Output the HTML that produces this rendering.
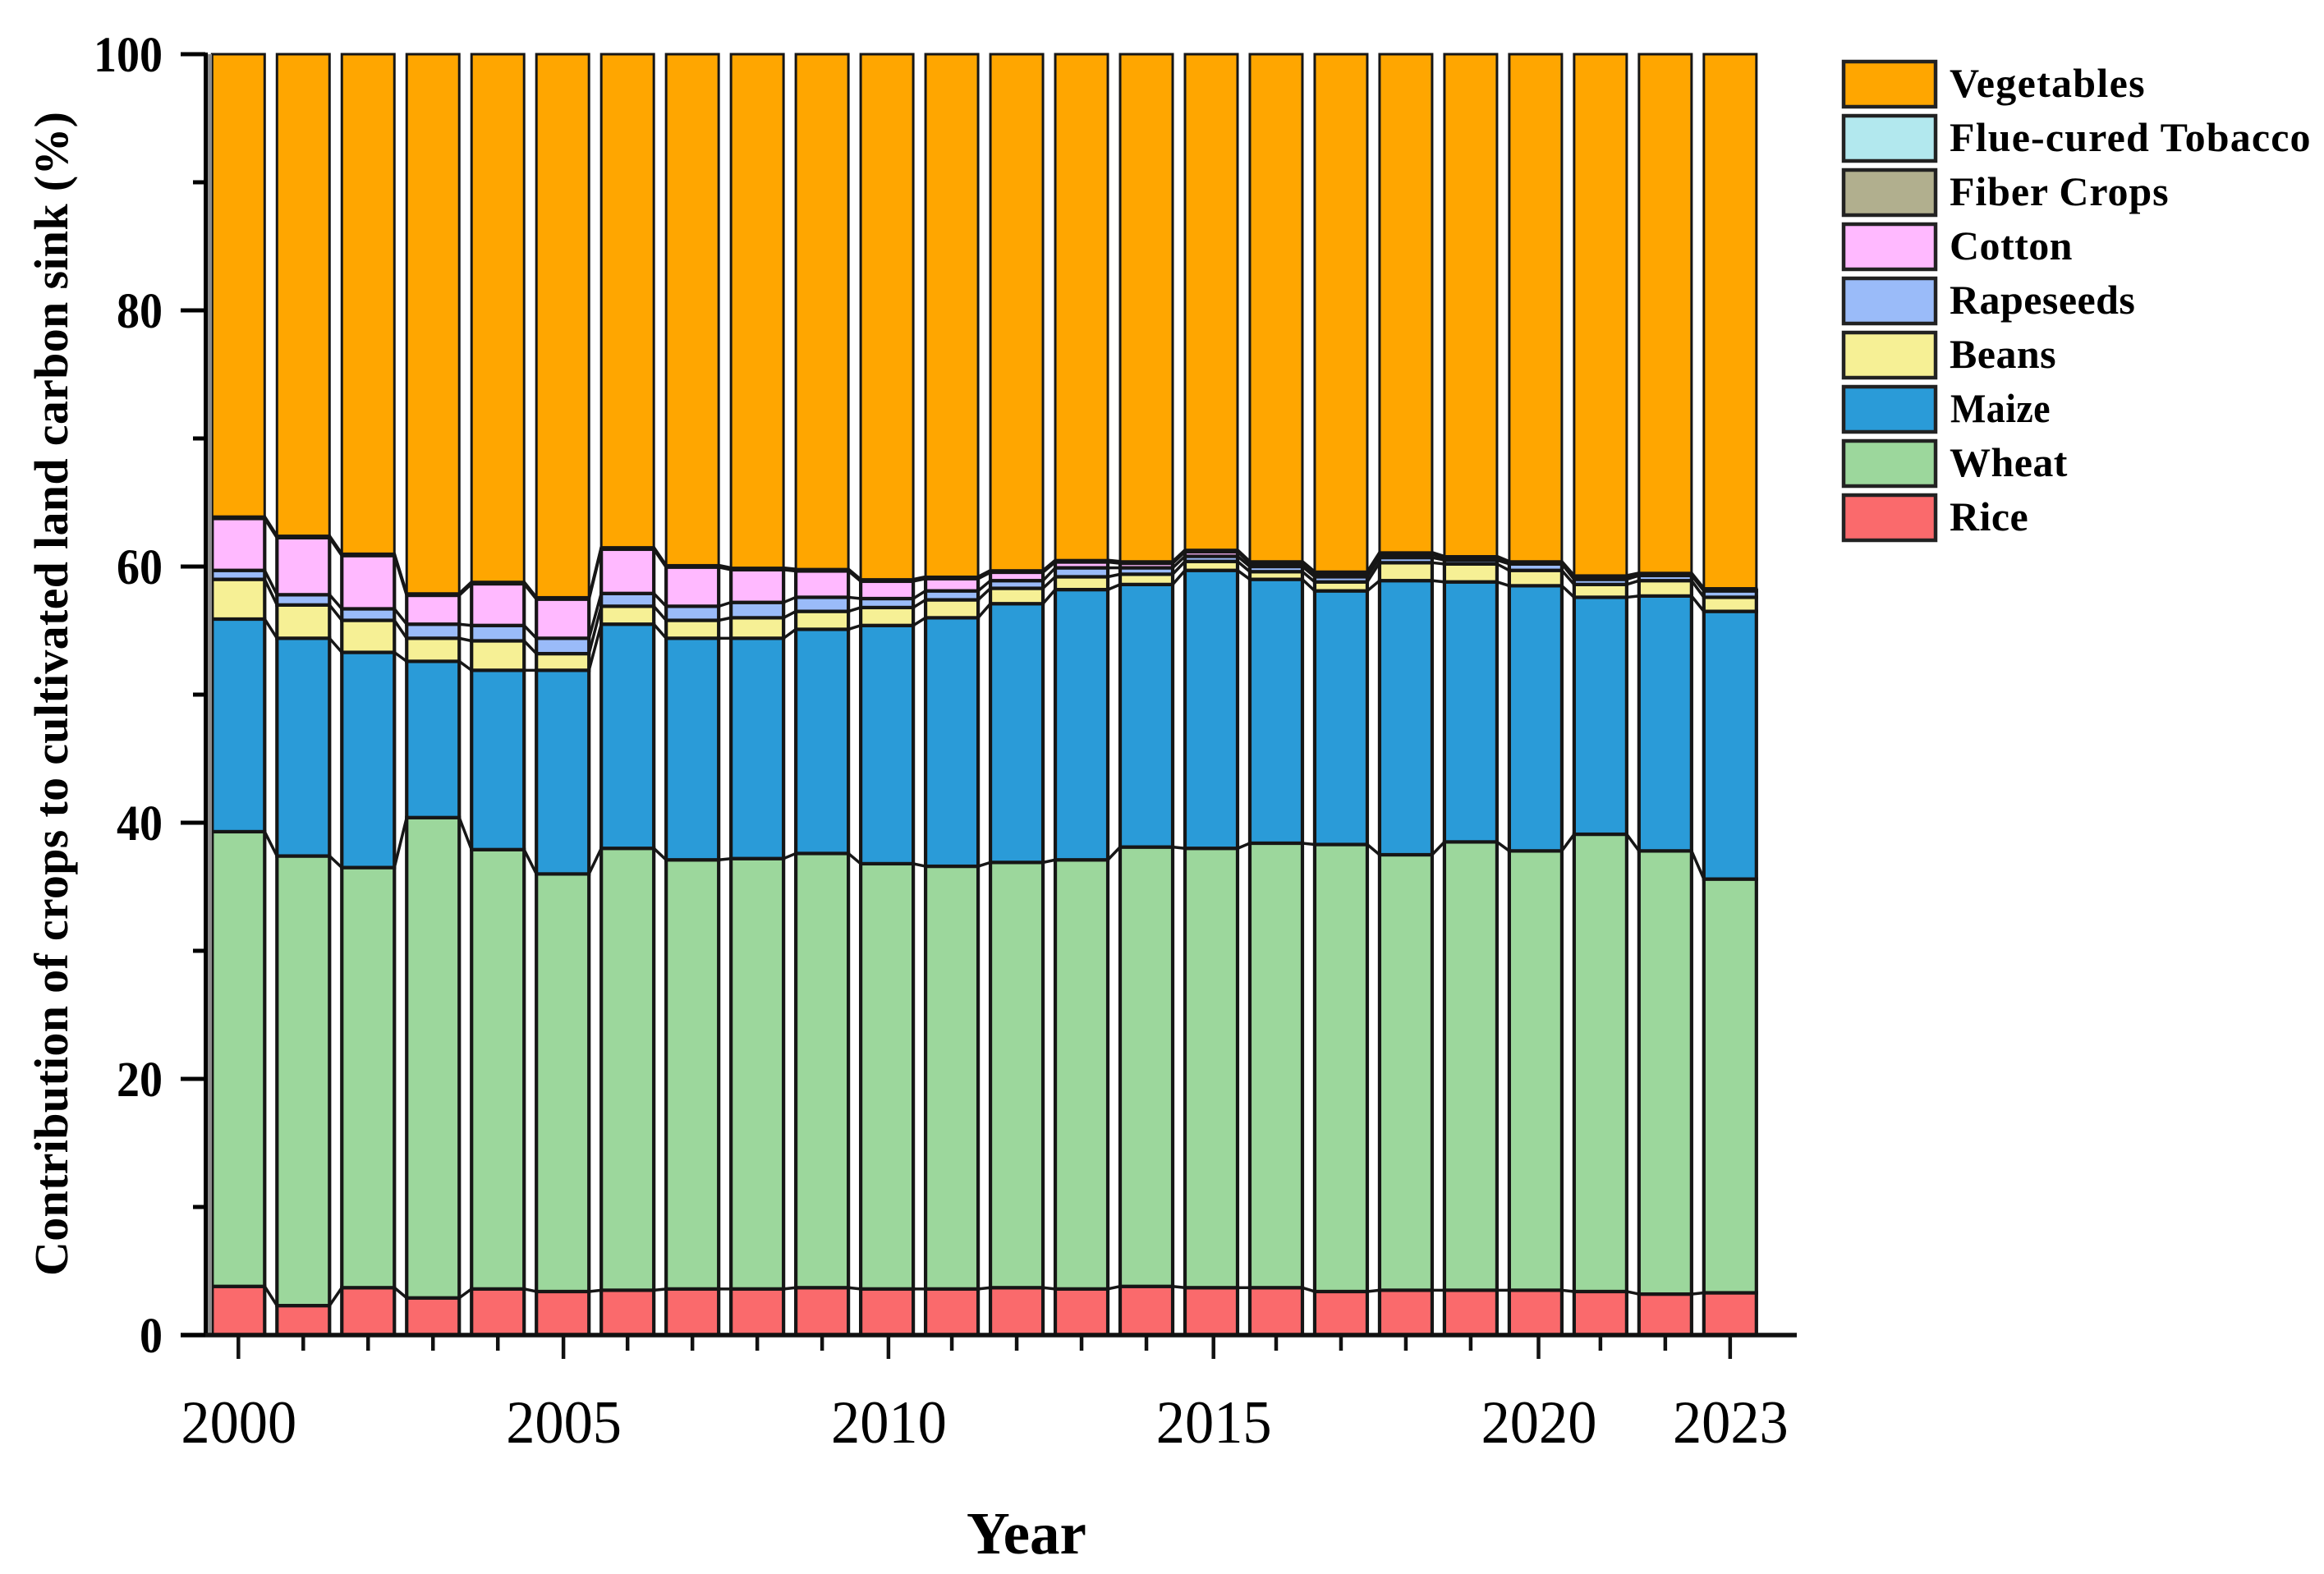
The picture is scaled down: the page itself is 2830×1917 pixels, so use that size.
<!DOCTYPE html>
<html lang="en">
<head>
<meta charset="utf-8">
<title>Contribution of crops to cultivated land carbon sink</title>
<style>
html,body{margin:0;padding:0;background:#fff;}
svg{display:block;}
text{fill:#000;font-family:"Liberation Serif",serif;}
.bold{font-weight:bold;}
.legend-text{font-size:50px;font-weight:bold;letter-spacing:.45px;}
</style>
</head>
<body>
<svg id="chart" xmlns="http://www.w3.org/2000/svg" width="2830" height="1917" viewBox="0 0 2830 1917">
  <rect x="0" y="0" width="2830" height="1917" fill="#fff"/>
  <g id="connectors"></g>
  <g id="bars"></g>
  <g id="axes"></g>
  <text class="bold" transform="translate(82,845) rotate(-90)" text-anchor="middle" font-size="58" textLength="1418" lengthAdjust="spacing">Contribution of crops to cultivated land carbon sink (%)</text>
  <text class="bold" x="1250" y="1892" text-anchor="middle" font-size="73">Year</text>
  <g>
    <g><rect x="2245" y="75" width="112" height="55" fill="#FFA600" stroke="#222" stroke-width="4.5"/><text class="legend-text" x="2374" y="118" textLength="238">Vegetables</text></g>
    <g><rect x="2245" y="141" width="112" height="55" fill="#B2E8EE" stroke="#222" stroke-width="4.5"/><text class="legend-text" x="2374" y="184" textLength="440">Flue-cured Tobacco</text></g>
    <g><rect x="2245" y="207" width="112" height="55" fill="#B1AF8E" stroke="#222" stroke-width="4.5"/><text class="legend-text" x="2374" y="250" textLength="267">Fiber Crops</text></g>
    <g><rect x="2245" y="273" width="112" height="55" fill="#FFB9FF" stroke="#222" stroke-width="4.5"/><text class="legend-text" x="2374" y="316">Cotton</text></g>
    <g><rect x="2245" y="339" width="112" height="55" fill="#9ABBF9" stroke="#222" stroke-width="4.5"/><text class="legend-text" x="2374" y="382">Rapeseeds</text></g>
    <g><rect x="2245" y="405" width="112" height="55" fill="#F6F095" stroke="#222" stroke-width="4.5"/><text class="legend-text" x="2374" y="448">Beans</text></g>
    <g><rect x="2245" y="471" width="112" height="55" fill="#2A9BD8" stroke="#222" stroke-width="4.5"/><text class="legend-text" x="2375" y="514" textLength="122" lengthAdjust="spacingAndGlyphs">Maize</text></g>
    <g><rect x="2245" y="537" width="112" height="55" fill="#9CD79C" stroke="#222" stroke-width="4.5"/><text class="legend-text" x="2374" y="580">Wheat</text></g>
    <g><rect x="2245" y="603" width="112" height="55" fill="#FA6A6C" stroke="#222" stroke-width="4.5"/><text class="legend-text" x="2374" y="646">Rice</text></g>
  </g>
</svg>
<script>
const years = [2000,2001,2002,2003,2004,2005,2006,2007,2008,2009,2010,2011,2012,2013,2014,2015,2016,2017,2018,2019,2020,2021,2022,2023];
const rice = [3.8,2.3,3.7,2.9,3.6,3.4,3.5,3.6,3.6,3.7,3.6,3.6,3.7,3.6,3.8,3.7,3.7,3.4,3.5,3.5,3.5,3.4,3.2,3.3];
const wheat = [35.5,35.1,32.8,37.5,34.3,32.6,34.5,33.5,33.6,33.9,33.2,33.0,33.2,33.5,34.3,34.3,34.7,34.9,34.0,35.0,34.3,35.7,34.6,32.3];
const maize = [16.6,17.0,16.8,12.2,14.0,15.9,17.5,17.3,17.2,17.5,18.6,19.4,20.2,21.1,20.5,21.7,20.6,19.8,21.4,20.3,20.7,18.5,19.9,20.9];
const beans = [3.1,2.6,2.5,1.8,2.3,1.3,1.4,1.4,1.6,1.4,1.4,1.4,1.2,1.0,0.8,0.7,0.6,0.7,1.4,1.4,1.2,1.0,1.2,1.1];
const rapeseeds = [0.7,0.8,0.9,1.1,1.2,1.2,1.0,1.1,1.2,1.1,0.7,0.7,0.6,0.7,0.5,0.4,0.4,0.4,0.4,0.3,0.5,0.4,0.4,0.5];
const cotton = [4.05,4.45,4.15,2.25,3.25,3.05,3.45,3.05,2.55,2.05,1.35,0.95,0.65,0.45,0.35,0.35,0.25,0.25,0.25,0.15,0.05,0.15,0.05,0.05];
const fiberCrops = [0.1,0.1,0.1,0.1,0.1,0.1,0.1,0.1,0.1,0.1,0.1,0.1,0.1,0.1,0.1,0.1,0.1,0.1,0.1,0.1,0.1,0.1,0.1,0.1];
const flueCuredTobacco = [0.05,0.05,0.05,0.05,0.05,0.05,0.05,0.05,0.05,0.05,0.05,0.05,0.05,0.05,0.05,0.05,0.05,0.05,0.05,0.05,0.05,0.05,0.05,0.05];
const vegetables = [36.1,37.6,39.0,42.1,41.2,42.4,38.5,39.9,40.1,40.2,41.0,40.8,40.3,39.5,39.6,38.7,39.6,40.4,38.9,39.2,39.6,40.7,40.5,41.7];
const seriesNames = ['rice','wheat','maize','beans','rapeseeds','cotton','fiber-crops','flue-cured-tobacco','vegetables'];
const seriesValues = [rice,wheat,maize,beans,rapeseeds,cotton,fiberCrops,flueCuredTobacco,vegetables];
const seriesColors = ['#FA6A6C','#9CD79C','#2A9BD8','#F6F095','#9ABBF9','#FFB9FF','#B1AF8E','#B2E8EE','#FFA600'];
const yTickValues = [0,10,20,30,40,50,60,70,80,90,100];
const yTickLabels = ['0','20','40','60','80','100'];
const xTickLabels = ['2000','2005','2010','2015','2020','2023'];

const NS = 'http://www.w3.org/2000/svg';
const barWidth = 64;
function xScale(year){ return 290.3 + (year - 2000) * 78.98; }
function xMajor(year){ return xScale(year) + (year % 5 === 0 ? (year - 2000) * 0.18 : 0); }
function yScale(v){ return 1626 - v * 15.6; }
function mk(parent, tag, attrs){
  const el = document.createElementNS(NS, tag);
  for (const k in attrs) el.setAttribute(k, attrs[k]);
  parent.appendChild(el);
  return el;
}
const barsG = document.getElementById('bars');
const connG = document.getElementById('connectors');
const axesG = document.getElementById('axes');

const leftFrame = mk(axesG, 'rect', {x:253, y:66, width:5, height:1560, fill:'#8c8c8c'});



const tops = years.map(() => 0);
seriesValues.forEach((vals, s) => {
  const prev = tops.slice();
  years.forEach((yr, i) => { tops[i] = prev[i] + vals[i]; });
  years.forEach((yr, i) => {
    const yTop = yScale(tops[i]);
    const yBot = yScale(prev[i]);
    const r = mk(barsG, 'rect', {x:xScale(yr) - barWidth/2, y:yTop, width:barWidth, height:Math.max(yBot - yTop, 0.1), fill:seriesColors[s], stroke:'#161616', 'stroke-width':s >= 6 ? 3 : 4.2});
    
    
    if (i < years.length - 1 && s < seriesValues.length - 1) {
      const nextTop = prev[i+1] + vals[i+1];
      const l = mk(connG, 'line', {x1:xScale(yr) + barWidth/2, y1:yTop, x2:xScale(years[i+1]) - barWidth/2, y2:yScale(nextTop), stroke:'#161616', 'stroke-width':3.5});
      
      
    }
  });
});

const yAxis = mk(axesG, 'line', {x1:250.5, y1:64, x2:250.5, y2:1628, stroke:'#000', 'stroke-width':5});


const xAxis = mk(axesG, 'line', {x1:220, y1:1626, x2:2188, y2:1626, stroke:'#111', 'stroke-width':5.5});



yTickValues.forEach(v => {
  const major = yTickLabels.includes(String(v));
  const t = mk(axesG, 'line', {x1:major ? 220 : 235, y1:yScale(v), x2:250, y2:yScale(v), stroke:'#000', 'stroke-width':5});
  
  
});
yTickLabels.forEach(lab => {
  const t = mk(axesG, 'text', {x:198, y:yScale(Number(lab)) + 21, 'text-anchor':'end', 'font-size':61, 'font-weight':'bold', textLength:lab.length * 28, lengthAdjust:'spacingAndGlyphs'});
  t.textContent = lab;
  
  
});
years.forEach(yr => {
  const major = xTickLabels.includes(String(yr));
  const t = mk(axesG, 'line', {x1:xMajor(yr), y1:1626, x2:xMajor(yr), y2:major ? 1655 : 1645, stroke:'#111', 'stroke-width':4.5});
  
  
});
xTickLabels.forEach(lab => {
  const t = mk(axesG, 'text', {x:xMajor(Number(lab)) + 0.5, y:1757, 'text-anchor':'middle', 'font-size':74, textLength:lab.length * 35.2, lengthAdjust:'spacingAndGlyphs'});
  t.textContent = lab;
  
  
});
</script>
</body>
</html>
